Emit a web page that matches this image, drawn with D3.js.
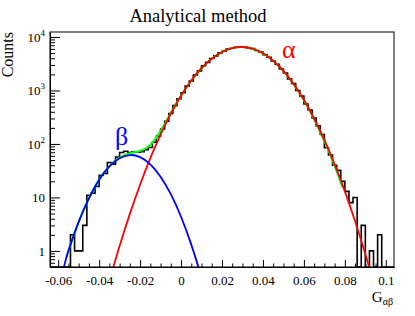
<!DOCTYPE html>
<html>
<head>
<meta charset="utf-8">
<script src="https://cdn.jsdelivr.net/npm/d3@7"></script>
<style>
  body { margin: 0; background: #fff; }
  svg { display: block; }
  svg text { font-family: "Liberation Serif", "Times New Roman", Times, "DejaVu Serif", serif; }
</style>
</head>
<body>
<div id="chart"></div>
<script>
// histogram: 84 bins of 0.002 starting at -0.064
const histLow = -0.064;
const binWidth = 0.002;
const counts = [
  0, 0, 0, 0, 0, 2, 1, 1, 3, 11,
  12, 16, 26, 28, 45, 42, 57, 69, 73, 69,
  71, 70, 72, 78, 86, 108, 140, 190, 265, 370,
  520, 700, 905, 1210, 1500, 1950, 2330, 2900, 3350, 3970,
  4430, 5050, 5420, 5930, 6160, 6450, 6470, 6500, 6250, 6060,
  5600, 5240, 4650, 4190, 3560, 3100, 2520, 2120, 1650, 1350,
  1000, 790, 560, 430, 305, 218, 150, 85, 62, 40,
  32, 20, 13, 8, 10, 0, 3, 0, 1, 0,
  2, 0, 0, 0
];

// fit curves, points [x, counts]
const alphaFit = [
  [-0.034, 0.375], [-0.030, 1.24], [-0.025, 4.92], [-0.020, 17.3], [-0.015, 54.2],
  [-0.010, 150], [-0.005, 367], [0.000, 796], [0.005, 1531], [0.010, 2606],
  [0.015, 3926], [0.020, 5244], [0.025, 6203], [0.030, 6497], [0.035, 6025],
  [0.040, 4947], [0.045, 3598], [0.050, 2319], [0.055, 1323], [0.060, 669],
  [0.065, 299], [0.070, 119], [0.075, 41.7], [0.080, 13.0], [0.085, 3.57],
  [0.090, 0.871], [0.093, 0.352]
];
const betaFit = [
  [-0.0575, 0.45], [-0.055, 1.01], [-0.050, 3.49], [-0.045, 9.6], [-0.040, 21.4],
  [-0.035, 38.1], [-0.030, 54.2], [-0.025, 62], [-0.020, 56.7], [-0.015, 41.6],
  [-0.010, 24.4], [-0.005, 11.5], [0.000, 4.35], [0.005, 1.31], [0.009, 0.43]
];
const totalFit = [
  [-0.056, 0.77], [-0.050, 3.5], [-0.045, 9.6], [-0.040, 21.5], [-0.035, 38.4],
  [-0.030, 55.4], [-0.025, 66.9], [-0.020, 74], [-0.015, 95.8], [-0.010, 174],
  [-0.005, 379], [0.000, 800], [0.005, 1532], [0.010, 2607], [0.015, 3926],
  [0.020, 5244], [0.025, 6203], [0.030, 6497], [0.035, 6025], [0.040, 4947],
  [0.045, 3598], [0.050, 2319], [0.055, 1310], [0.060, 655], [0.065, 290],
  [0.070, 113], [0.075, 39], [0.079, 15]
];

const xTicks = [-0.06, -0.04, -0.02, 0, 0.02, 0.04, 0.06, 0.08, 0.1];
const xTickLabels = ["-0.06", "-0.04", "-0.02", "0", "0.02", "0.04", "0.06", "0.08", "0.1"];
const yTicks = [1, 10, 100, 1000, 10000];
const yTickExp = [null, null, "2", "3", "4"];

const serif = "'Liberation Serif', 'Times New Roman', Times, 'DejaVu Serif', serif";

const width = 415, height = 316;
const margin = { top: 32, right: 21, bottom: 49, left: 50 };
const innerW = width - margin.left - margin.right;
const innerH = height - margin.top - margin.bottom;

const svg = d3.select("#chart").append("svg")
  .attr("width", width)
  .attr("height", height)
  .style("font-family", serif);

svg.append("defs").append("clipPath")
  .attr("id", "frame-clip")
  .append("rect")
  .attr("width", innerW)
  .attr("height", innerH);

const g = svg.append("g")
  .attr("transform", `translate(${margin.left},${margin.top})`);

const x = d3.scaleLinear().domain([histLow, histLow + binWidth * counts.length]).range([0, innerW]);
const y = d3.scaleLog().domain([0.5, 12400]).range([innerH, 0]);
const yMin = y.domain()[0];

// x axis, ticks pointing into the frame
const xAxis = g.append("g")
  .attr("transform", `translate(0,${innerH})`)
  .attr("color", "#000")
  .call(d3.axisBottom(x).tickValues(xTicks).tickSize(-7).tickSizeOuter(0).tickPadding(6)
    .tickFormat((d, i) => xTickLabels[i]));
xAxis.attr("font-family", serif);
xAxis.selectAll("text")
  .style("font-family", serif)
  .attr("font-size", "13px")
  .attr("dy", "0.9em");

const xMinor = d3.range(-0.06, 0.1001, 0.005).filter(v => !xTicks.some(t => Math.abs(t - v) < 1e-9));
g.append("g")
  .attr("transform", `translate(0,${innerH})`)
  .attr("color", "#000")
  .call(d3.axisBottom(x).tickValues(xMinor).tickSize(-3.5).tickSizeOuter(0).tickFormat(""));

// y axis (log)
const yAxis = g.append("g")
  .attr("color", "#000")
  .call(d3.axisLeft(y).tickValues(yTicks).tickSize(-10).tickSizeOuter(0).tickFormat(""));
yAxis.attr("font-family", serif);

yAxis.selectAll(".tick").each(function (d, i) {
  const t = d3.select(this).append("text")
    .attr("fill", "#000")
    .attr("x", -5)
    .attr("y", 4.5)
    .attr("text-anchor", "end")
    .style("font-family", serif)
    .attr("font-size", "13px");
  t.append("tspan").text(yTickExp[i] ? "10" : String(d));
  if (yTickExp[i]) {
    t.append("tspan").attr("font-size", "9px").attr("dy", "-6").text(yTickExp[i]);
  }
});

const yMinor = [];
[0.1, 1, 10, 100, 1000].forEach(dec => {
  d3.range(2, 10).forEach(m => {
    const v = dec * m;
    if (v >= yMin && v <= y.domain()[1]) yMinor.push(v);
  });
});
g.append("g")
  .attr("color", "#000")
  .call(d3.axisLeft(y).tickValues(yMinor).tickSize(-5).tickSizeOuter(0).tickFormat(""));

// histogram outline
const histPts = [[histLow, yMin]];
counts.forEach((c, i) => {
  const v = Math.max(c, yMin);
  histPts.push([histLow + i * binWidth, v]);
  histPts.push([histLow + (i + 1) * binWidth, v]);
});
histPts.push([histLow + counts.length * binWidth, yMin]);

const plot = g.append("g").attr("clip-path", "url(#frame-clip)");

plot.append("path")
  .datum(histPts)
  .attr("fill", "none")
  .attr("stroke", "#000")
  .attr("stroke-width", 1.6)
  .attr("d", d3.line().x(d => x(d[0])).y(d => y(d[1])));

const fitLine = d3.line()
  .x(d => x(d[0]))
  .y(d => y(d[1]))
  .curve(d3.curveNatural);

plot.append("path")
  .datum(totalFit)
  .attr("fill", "none")
  .attr("stroke", "#00ff00")
  .attr("stroke-width", 2)
  .attr("d", fitLine);

plot.append("path")
  .datum(alphaFit)
  .attr("fill", "none")
  .attr("stroke", "#ff0000")
  .attr("stroke-width", 1.8)
  .attr("d", fitLine);

plot.append("path")
  .datum(betaFit)
  .attr("fill", "none")
  .attr("stroke", "#0000ff")
  .attr("stroke-width", 1.8)
  .attr("d", fitLine);

// frame
g.append("rect")
  .attr("width", innerW)
  .attr("height", innerH)
  .attr("fill", "none")
  .attr("stroke", "#000")
  .attr("stroke-width", 1);

// labels
svg.append("text")
  .attr("x", 198)
  .attr("y", 22)
  .attr("text-anchor", "middle")
  .attr("font-size", "18.5px")
  .text("Analytical method");

svg.append("text")
  .attr("transform", "translate(13,32) rotate(-90)")
  .attr("text-anchor", "end")
  .attr("font-size", "16px")
  .text("Counts");

const xLab = svg.append("text")
  .attr("x", 393)
  .attr("y", 302)
  .attr("text-anchor", "end")
  .attr("font-size", "15px");
xLab.append("tspan").text("G");
xLab.append("tspan").attr("font-size", "10px").attr("dy", "3").text("αβ");

svg.append("text")
  .attr("x", 282)
  .attr("y", 58)
  .attr("fill", "#ff0000")
  .attr("font-size", "26px")
  .text("α");

svg.append("text")
  .attr("x", 115)
  .attr("y", 145)
  .attr("fill", "#0000ff")
  .attr("font-size", "26px")
  .text("β");
</script>
</body>
</html>
